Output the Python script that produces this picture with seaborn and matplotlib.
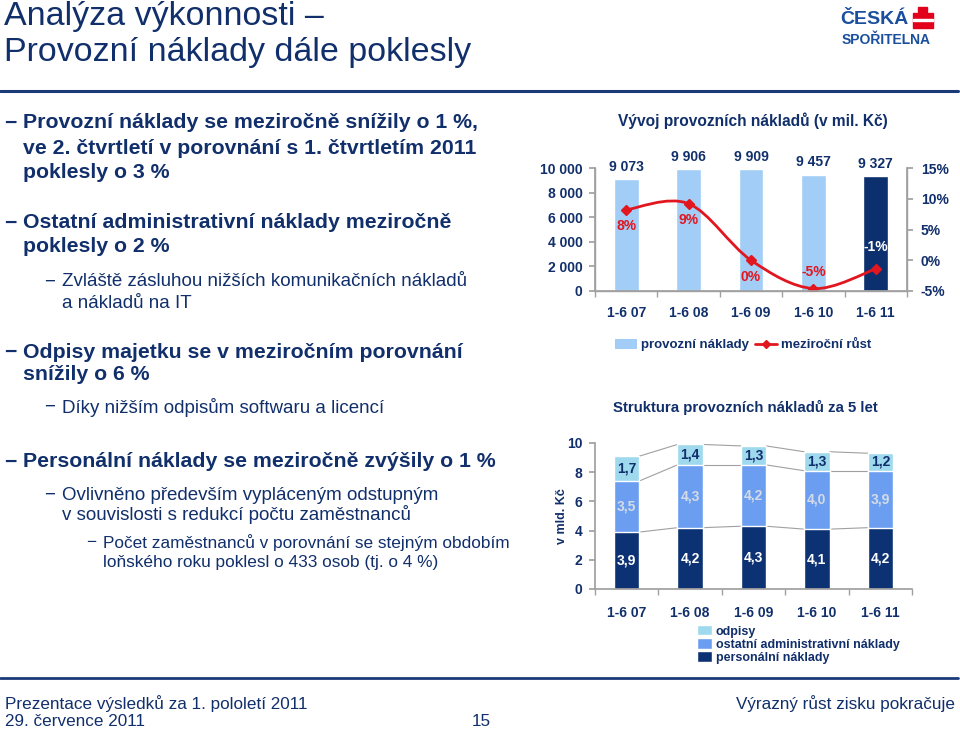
import numpy as np
import pandas as pd
import matplotlib
matplotlib.use('Agg')
import matplotlib.pyplot as plt
import seaborn as sns
from matplotlib.path import Path
from matplotlib.patches import PathPatch, Rectangle, Patch
from matplotlib.lines import Line2D

# ---------------- data ----------------
periods = ['1-6 07', '1-6 08', '1-6 09', '1-6 10', '1-6 11']
opex = [9073, 9906, 9909, 9457, 9327]
growth = [8.2, 9.2, 0.0, -4.6, -1.4]
growth_labels = ['8%', '9%', '0%', '-5%', '-1%']
personal = [3.9, 4.2, 4.3, 4.1, 4.2]
admin = [3.5, 4.3, 4.2, 4.0, 3.9]
depreciation = [1.7, 1.4, 1.3, 1.3, 1.2]
opex_ticks = [0, 2000, 4000, 6000, 8000, 10000]
opex_tick_labels = ['0', '2 000', '4 000', '6 000', '8 000', '10 000']
growth_ticks = [-5, 0, 5, 10, 15]
growth_tick_labels = ['-5%', '0%', '5%', '10%', '15%']
struct_ticks = [0, 2, 4, 6, 8, 10]

sns.set_theme(style='white')
plt.rcParams['font.family'] = ['Liberation Sans', 'DejaVu Sans']

NAVY = '#112f6b'
RED = '#e2161f'
LIGHT = '#a2cdf6'
DARK = '#0c2f6e'
C_ODP = '#9fd9ee'
C_ADM = '#6b9ef0'
C_PER = '#0c3273'
GREY = '#a0a0a0'

W, H = 960, 733
fig = plt.figure(figsize=(9.6, 7.33), dpi=100)
fig.patch.set_facecolor('white')

def fx(x):
    return x / W

def fy(y):
    return 1 - y / H

# ---------------- header ----------------
fig.text(fx(4), fy(17), 'Analýza výkonnosti –', fontsize=24.5, color=NAVY, va='center', ha='left')
fig.text(fx(4), fy(52), 'Provozní náklady dále poklesly', fontsize=24.5, color=NAVY, va='center', ha='left')
fig.add_artist(Line2D([0, fx(958)], [fy(90.5), fy(90.5)], color='#1b3a78', lw=2.2, transform=fig.transFigure))
fig.add_artist(Line2D([0, fx(958)], [fy(678), fy(678)], color='#1b3a78', lw=2.0, transform=fig.transFigure))

# logo
fig.text(fx(840), fy(20), 'ČESKÁ', fontsize=14, fontweight='heavy', color='#1a4f9e', va='center', ha='left')
fig.text(fx(842), fy(40), 'SPOŘITELNA', fontsize=10, fontweight='heavy', color='#1a4f9e', va='center', ha='left')
fig.add_artist(Rectangle((fx(918), fy(12)), fx(9), 5 / H, color='#e2001a', transform=fig.transFigure))
fig.add_artist(Rectangle((fx(913), fy(28)), fx(20), 15 / H, color='#e2001a', transform=fig.transFigure))
fig.add_artist(Rectangle((fx(913), fy(20.5)), fx(20), 2 / H, color='white', transform=fig.transFigure))

# ---------------- left bullet text ----------------
bullets = [
    (1, 'Provozní náklady se meziročně snížily o 1 %,', 123, True),
    (0, 've 2. čtvrtletí v porovnání s 1. čtvrtletím 2011', 148, True),
    (0, 'poklesly o 3 %', 172, True),
    (1, 'Ostatní administrativní náklady meziročně', 223, True),
    (0, 'poklesly o 2 %', 247, True),
    (2, 'Zvláště zásluhou nižších komunikačních nákladů', 282, False),
    (-2, 'a nákladů na IT', 303, False),
    (1, 'Odpisy majetku se v meziročním porovnání', 352, True),
    (0, 'snížily o 6 %', 375, True),
    (2, 'Díky nižším odpisům softwaru a licencí', 407, False),
    (1, 'Personální náklady se meziročně zvýšily o 1 %', 462, True),
    (2, 'Ovlivněno především vypláceným odstupným', 495, False),
    (-2, 'v souvislosti s redukcí počtu zaměstnanců', 515, False),
    (3, 'Počet zaměstnanců v porovnání se stejným obdobím', 543, False),
    (-3, 'loňského roku poklesl o 433 osob (tj. o 4 %)', 562, False),
]
dash_x = {1: 4, 2: 44, 3: 86}
text_x = {1: 23, 0: 23, 2: 62, -2: 62, 3: 103, -3: 103}
sizes = {1: 15.3, 0: 15.3, 2: 13.5, -2: 13.5, 3: 12.4, -3: 12.4}
for lvl, s, y, bold in bullets:
    fw = 'bold' if bold else 'normal'
    if lvl > 0:
        fig.text(fx(dash_x[lvl]), fy(y), '−', fontsize=sizes[lvl], fontweight=fw, color=NAVY, va='center', ha='left')
    fig.text(fx(text_x[lvl]), fy(y), s, fontsize=sizes[lvl], fontweight=fw, color=NAVY, va='center', ha='left')

# ---------------- footer ----------------
fig.text(fx(5), fy(704), 'Prezentace výsledků za 1. pololetí 2011', fontsize=12.3, color=NAVY, va='center', ha='left')
fig.text(fx(5), fy(722), '29. července 2011', fontsize=12.3, color=NAVY, va='center', ha='left')
fig.text(fx(481), fy(722), '15', fontsize=12.3, color=NAVY, va='center', ha='center')
fig.text(fx(955), fy(704), 'Výrazný růst zisku pokračuje', fontsize=12.3, color=NAVY, va='center', ha='right')

# ---------------- chart 1 ----------------
ax1 = fig.add_axes([fx(595), fy(291), 312 / W, 123 / H])
df1 = pd.DataFrame({'period': periods, 'opex': opex})
sns.barplot(data=df1, x='period', y='opex', hue='period', palette=[LIGHT] * 4 + [DARK],
            width=0.4, saturation=1, ax=ax1, legend=False)
ax1.set_xlim(-0.5, 4.5)
ax1.set_ylim(0, 10000)
ax1.set_yticks(opex_ticks)
ax1.set_yticklabels(opex_tick_labels)
ax1.set_xlabel('')
ax1.set_ylabel('')
for sp in ['left', 'bottom', 'right']:
    ax1.spines[sp].set_color(GREY)
    ax1.spines[sp].set_linewidth(1)
ax1.spines['top'].set_visible(False)
ax1.set_xticks(np.arange(-0.5, 5, 1), minor=True)
ax1.tick_params(axis='x', which='major', bottom=False, labelsize=10, labelcolor=NAVY, pad=5)
ax1.tick_params(axis='x', which='minor', bottom=True, length=4, color=GREY)
ax1.tick_params(axis='y', left=True, length=4, color=GREY, labelsize=10, labelcolor=NAVY, pad=5)
for t in ax1.get_xticklabels() + ax1.get_yticklabels():
    t.set_fontweight('bold')
for i, v in enumerate(opex):
    ax1.annotate(f'{v:,}'.replace(',', ' '), (i, v), xytext=(0, 4), textcoords='offset points',
                 ha='center', va='bottom', fontsize=10, fontweight='bold', color=NAVY)

ax2 = ax1.twinx()
ax2.set_ylim(-5, 15)
ax2.set_yticks(growth_ticks)
ax2.set_yticklabels(growth_tick_labels)
for sp in ['left', 'bottom', 'right']:
    ax2.spines[sp].set_color(GREY)
ax2.spines['top'].set_visible(False)
ax2.tick_params(axis='y', right=True, length=4, color=GREY, labelsize=10, labelcolor=NAVY, pad=6)
for t in ax2.get_yticklabels():
    t.set_fontweight('bold')
ax2.grid(False)
ax1.grid(False)

# smooth (Catmull-Rom) curve through the growth points
pts = np.column_stack([np.arange(len(growth), dtype=float), np.array(growth, dtype=float)])
n = len(pts)
verts = [tuple(pts[0])]
codes = [Path.MOVETO]
for i in range(n - 1):
    p0 = pts[i - 1] if i > 0 else pts[i]
    p3 = pts[i + 2] if i + 2 < n else pts[i + 1]
    c1 = pts[i] + (pts[i + 1] - p0) / 6
    c2 = pts[i + 1] - (p3 - pts[i]) / 6
    verts += [tuple(c1), tuple(c2), tuple(pts[i + 1])]
    codes += [Path.CURVE4] * 3
ax2.add_patch(PathPatch(Path(verts, codes), fill=False, edgecolor=RED, lw=2))
ax2.plot(range(n), growth, 'D', color=RED, markersize=5, linestyle='none')
offsets = [-12, -12, -12, 12, 16]
for i, (g, lab) in enumerate(zip(growth, growth_labels)):
    col = 'white' if i == 4 else RED
    ax2.annotate(lab, (i, g), xytext=(0, offsets[i]), textcoords='offset points', ha='center',
                 va='center', fontsize=10, fontweight='bold', color=col)
ax2.set_xlim(-0.5, 4.5)

fig.text(fx(753), fy(121), 'Vývoj provozních nákladů (v mil. Kč)', fontsize=11.2, fontweight='bold',
         color=NAVY, ha='center', va='center')
h1 = [Patch(facecolor=LIGHT, edgecolor='none'),
      Line2D([], [], color=RED, marker='D', markersize=4.5, lw=2)]
fig.legend(h1, ['provozní náklady', 'meziroční růst'], loc='center',
           bbox_to_anchor=(fx(743), fy(345)), ncol=2, frameon=False,
           prop={'size': 9.5, 'weight': 'bold'}, labelcolor=NAVY,
           handlelength=1.7, handleheight=0.8, handletextpad=0.3, columnspacing=0.4)

# ---------------- chart 2 ----------------
ax3 = fig.add_axes([fx(595), fy(589), 317 / W, 146 / H])
cum1 = np.array(personal)
cum2 = cum1 + np.array(admin)
cum3 = cum2 + np.array(depreciation)
for vals, col in [(cum3, C_ODP), (cum2, C_ADM), (cum1, C_PER)]:
    sns.barplot(x=periods, y=vals, color=col, width=0.4, saturation=1, ax=ax3)
for lev in [cum1, cum2, cum3]:
    for i in range(n - 1):
        ax3.plot([i + 0.2, i + 0.8], [lev[i], lev[i + 1]], color=GREY, lw=0.8, zorder=0)
ax3.set_xlim(-0.5, 4.5)
ax3.set_ylim(0, 10)
ax3.set_yticks(struct_ticks)
ax3.set_yticklabels([str(t) for t in struct_ticks])
for sp in ['left', 'bottom']:
    ax3.spines[sp].set_color(GREY)
ax3.spines['top'].set_visible(False)
ax3.spines['right'].set_visible(False)
ax3.set_xticks(np.arange(-0.5, 5, 1), minor=True)
ax3.tick_params(axis='x', which='major', bottom=False, labelsize=10, labelcolor=NAVY, pad=6)
ax3.tick_params(axis='x', which='minor', bottom=True, length=4, color=GREY)
ax3.tick_params(axis='y', left=True, length=4, color=GREY, labelsize=10, labelcolor=NAVY, pad=5)
for t in ax3.get_xticklabels() + ax3.get_yticklabels():
    t.set_fontweight('bold')
ax3.set_ylabel('v mld. Kč', fontsize=9, fontweight='bold', color=NAVY, labelpad=-1)
ax3.grid(False)
fmt = lambda v: f'{v:.1f}'.replace('.', ',')
for i in range(n):
    ax3.text(i, personal[i] / 2, fmt(personal[i]), ha='center', va='center', fontsize=10,
             fontweight='bold', color='white')
    ax3.text(i, cum1[i] + admin[i] / 2, fmt(admin[i]), ha='center', va='center', fontsize=10,
             fontweight='bold', color='#d5dbe6')
    ax3.text(i, cum2[i] + depreciation[i] / 2, fmt(depreciation[i]), ha='center', va='center',
             fontsize=10, fontweight='bold', color=NAVY)

fig.text(fx(745), fy(407), 'Struktura provozních nákladů za 5 let', fontsize=10.8, fontweight='bold',
         color=NAVY, ha='center', va='center')
h2 = [Patch(facecolor=C_ODP), Patch(facecolor=C_ADM), Patch(facecolor=C_PER)]
fig.legend(h2, ['odpisy', 'ostatní administrativní náklady', 'personální náklady'], loc='upper left',
           bbox_to_anchor=(fx(697), fy(625)), frameon=False, prop={'size': 9, 'weight': 'bold'},
           labelcolor=NAVY, handlelength=1.2, handleheight=0.9, handletextpad=0.3,
           labelspacing=0.05, borderpad=0, borderaxespad=0)

fig.savefig('out.png', dpi=100)
